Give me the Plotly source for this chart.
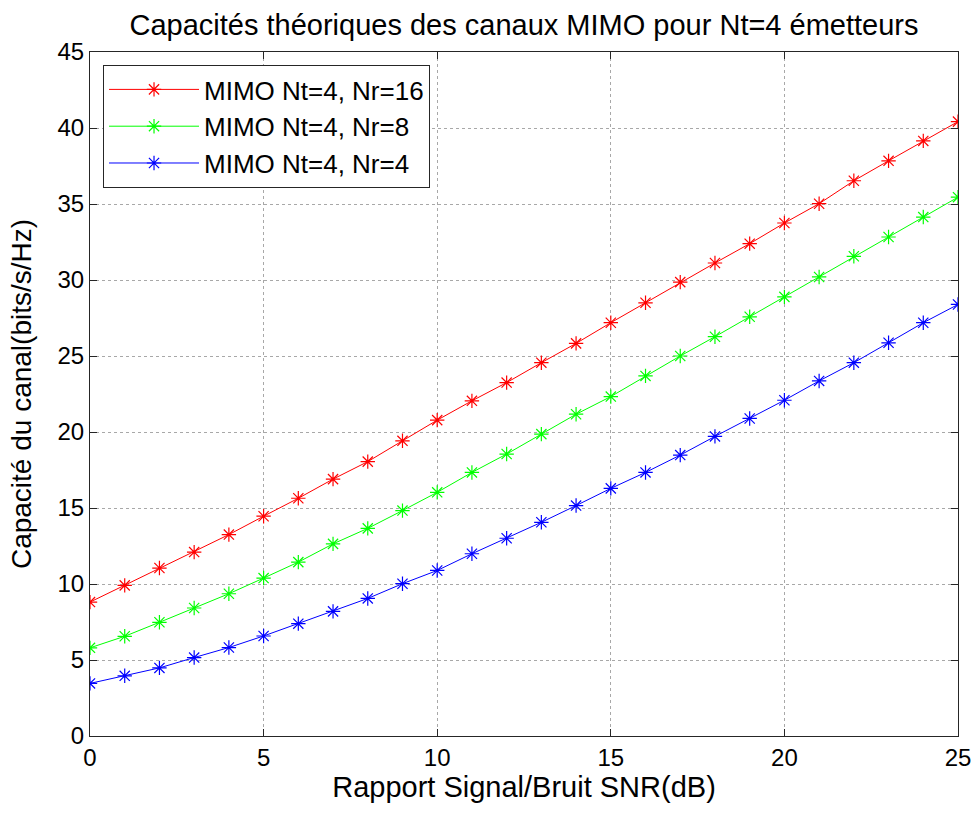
import plotly.graph_objects as go

snr = list(range(26))
nr16 = [8.81, 9.91, 11.05, 12.1, 13.25, 14.46, 15.64, 16.9, 18.05, 19.42, 20.78, 22.05, 23.25,
        24.56, 25.83, 27.19, 28.5, 29.86, 31.12, 32.39, 33.75, 35.02, 36.53, 37.84, 39.15, 40.42]
nr8 = [5.8, 6.56, 7.48, 8.42, 9.36, 10.39, 11.44, 12.64, 13.66, 14.83, 16.03, 17.34, 18.55,
       19.86, 21.17, 22.33, 23.69, 25.0, 26.27, 27.58, 28.89, 30.2, 31.56, 32.83, 34.14, 35.45]
nr4 = [3.46, 3.96, 4.48, 5.16, 5.82, 6.58, 7.39, 8.2, 9.05, 10.02, 10.89, 11.99, 13.01,
       14.06, 15.16, 16.29, 17.34, 18.48, 19.71, 20.89, 22.09, 23.36, 24.56, 25.87, 27.19, 28.39]

series = [("MIMO Nt=4, Nr=16", nr16, "#ff0000"),
          ("MIMO Nt=4, Nr=8", nr8, "#00ff00"),
          ("MIMO Nt=4, Nr=4", nr4, "#0000ff")]

fig = go.Figure()
for name, vals, col in series:
    fig.add_trace(go.Scatter(
        x=snr, y=vals, name=name, mode="lines+markers",
        line=dict(color=col, width=1),
        marker=dict(symbol="asterisk-open", size=12, color=col, line=dict(color=col, width=1.2)),
    ))

font = "Liberation Sans, Arial, sans-serif"
axis_common = dict(
    showline=True, linecolor="#262626", linewidth=1, mirror="ticks",
    ticks="inside", ticklen=7, tickcolor="#262626",
    showgrid=True, gridcolor="#a8a8a8", griddash="dot", gridwidth=1,
    zeroline=False, automargin=False,
    tickfont=dict(size=24, color="black", family=font),
)
fig.update_layout(
    width=974, height=814,
    paper_bgcolor="white", plot_bgcolor="white",
    margin=dict(l=90, r=16, t=52, b=78),
    title=dict(text="Capacités théoriques des canaux MIMO pour Nt=4 émetteurs",
               x=0.5, xref="paper", xanchor="center", y=0.969, yanchor="middle",
               font=dict(size=29, color="black", family=font)),
    xaxis=dict(range=[0, 25], tickvals=[0, 5, 10, 15, 20, 25],
               title=dict(text="Rapport Signal/Bruit SNR(dB)", font=dict(size=29, color="black", family=font),
                          standoff=6),
               **axis_common),
    yaxis=dict(range=[0, 45], tickvals=list(range(0, 46, 5)),
               title=dict(text="Capacité du canal(bits/s/Hz)", font=dict(size=28, color="black", family=font),
                          standoff=17),
               **axis_common),
    legend=dict(x=0.015, y=0.981, xanchor="left", yanchor="top",
                bgcolor="white", bordercolor="#262626", borderwidth=1,
                font=dict(size=26, color="black", family=font),
                itemwidth=90),
    showlegend=True,
)
fig.write_html("out.html",
               config={"displayModeBar": False},
               post_script="document.body.style.margin='0';document.body.style.overflow='hidden';")
